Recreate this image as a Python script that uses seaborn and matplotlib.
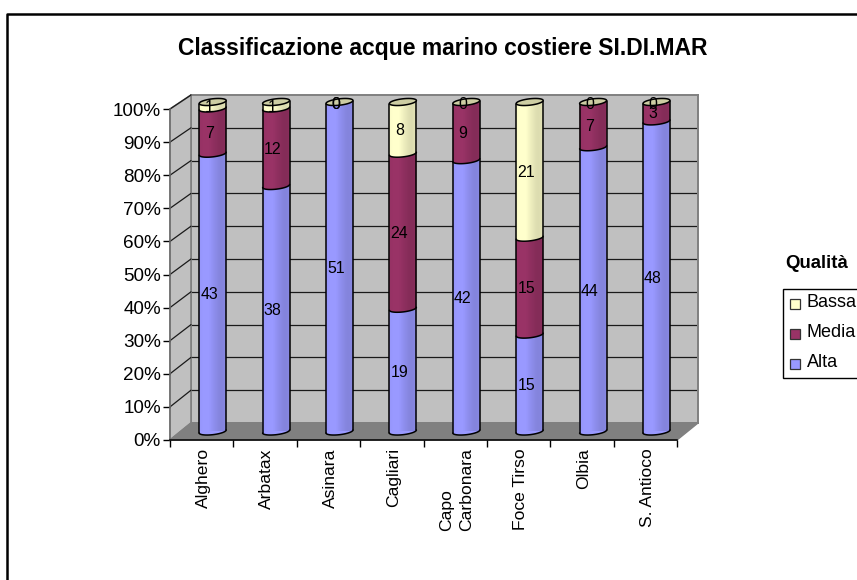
import numpy as np
import pandas as pd
import matplotlib
matplotlib.use("Agg")
import matplotlib.pyplot as plt
import seaborn as sns
from matplotlib.patches import Polygon, Rectangle
from matplotlib.lines import Line2D
from matplotlib.transforms import Affine2D

siti = ["Alghero", "Arbatax", "Asinara", "Cagliari", "Capo\nCarbonara", "Foce Tirso", "Olbia", "S. Antioco"]
alta = [43, 38, 51, 19, 42, 15, 44, 48]
media = [7, 12, 0, 24, 9, 15, 7, 3]
bassa = [1, 1, 0, 8, 0, 21, 0, 0]
col_alta, col_media, col_bassa = "#9999FF", "#993366", "#FFFFCC"
col_top = "#CDCDA3"

W, H = 857, 580
sns.set_theme(style="white")
plt.rcParams["font.family"] = ["Liberation Sans", "DejaVu Sans"]
fig = plt.figure(figsize=(W / 100, H / 100), dpi=100, facecolor="white")
px = Affine2D().scale(1 / W, -1 / H).translate(0, 1) + fig.transFigure
def rect(x0, y0, x1, y1):
    return [x0 / W, 1 - y1 / H, (x1 - x0) / W, (y1 - y0) / H]

# frame
fig.add_artist(Line2D([7.5, 7.5, W], [H, 14, 14], transform=px, color="black", lw=1.8, zorder=0))

# back wall
FX0, FX1, FY0, FY1 = 170, 677, 440, 109
BX0, BX1, BY0, BY1 = 191, 698, 423, 95
back = fig.add_axes(rect(BX0, BY1, BX1, BY0), zorder=1, facecolor="#C0C0C0")
back.set(xlim=(0, 1), ylim=(0, 100), xticks=[], yticks=[])
back.hlines(np.arange(10, 100, 10), 0, 1, color="#1a1a1a", lw=0.9)
for s in back.spines.values():
    s.set_color("#808080"); s.set_linewidth(1.4)

# side wall and floor
fig.add_artist(Polygon([(FX0, FY0), (FX0, FY1), (BX0, BY1), (BX0, BY0)], transform=px,
                       fc="#C0C0C0", ec="#808080", lw=1.2, zorder=1.1))
fig.add_artist(Polygon([(FX0, FY0), (FX1, FY0), (BX1, BY0), (BX0, BY0)], transform=px,
                       fc="#808080", ec="#808080", lw=1, zorder=1.1))
for p in np.arange(10, 101, 10):
    yf = FY0 + (FY1 - FY0) * p / 100
    yb = BY0 + (BY1 - BY0) * p / 100
    fig.add_artist(Line2D([FX0, BX0], [yf, yb], transform=px, color="#1a1a1a", lw=0.9, zorder=1.2))

# front axes: ticks and labels
front = fig.add_axes(rect(FX0, FY1, FX1, FY0), zorder=2, facecolor="none")
front.set_xlim(0, len(siti)); front.set_ylim(0, 100)
front.set_yticks(np.arange(0, 101, 10))
front.set_yticklabels([f"{v}%" for v in range(0, 101, 10)], fontsize=13.6, color="black")
front.set_xticks(np.arange(len(siti) + 1)); front.set_xticklabels([])
front.set_xticks(np.arange(len(siti)) + 0.53, minor=True)
front.set_xticklabels(siti, minor=True, rotation=90, fontsize=12.6, color="black",
                      va="top", ha="center", linespacing=1.42, multialignment="left")
front.tick_params(axis="y", which="major", length=5, width=1, color="black", pad=1.5, left=True)
front.tick_params(axis="x", which="major", length=5, width=1, color="black", pad=3, bottom=True)
front.tick_params(axis="x", which="minor", length=0, pad=6)
for n in ("top", "right"):
    front.spines[n].set_visible(False)
for n in ("left", "bottom"):
    front.spines[n].set_color("black"); front.spines[n].set_linewidth(1.1)
front.spines["left"].set_color("#707070")

# bars axes
ax = fig.add_axes(rect(181, 102, 688.2, 431.5), zorder=3, facecolor="none")
df = pd.DataFrame({"sito": siti, "alta": alta, "media": media, "bassa": bassa})
tot = df[["alta", "media", "bassa"]].sum(axis=1)
df["c1"] = df.alta / tot * 100
df["c2"] = (df.alta + df.media) / tot * 100
df["c3"] = (df.alta + df.media + df.bassa) / tot * 100
bw = 0.425
for cname, col in (("c3", col_bassa), ("c2", col_media), ("c1", col_alta)):
    sns.barplot(data=df, x="sito", y=cname, order=siti, color=col, saturation=1, width=bw,
                linewidth=0, ax=ax, errorbar=None)
bar_patches = list(ax.patches)
ax.set_xlim(-0.5, len(siti) - 0.5); ax.set_ylim(0, 100)
ax.axis("off")

unit = 100 / 329.5
b, sk = 3.2 * unit, 1.5 * unit
t_low = np.linspace(np.pi, 2 * np.pi, 40)
t_up = np.linspace(0, np.pi, 40)
def arc(c, y, t):
    return c + bw / 2 * np.cos(t), y + sk * np.cos(t) + b * np.sin(t)
shade = np.zeros((1, 10, 4))
shade[0, :, 3] = [0.02, 0, 0, 0, 0.03, 0.07, 0.10, 0.13, 0.14, 0.12]
for i in range(len(siti)):
    c1, c2, c3 = df.c1[i], df.c2[i], df.c3[i]
    # curved body of each stacked part, bottom to top
    for lo, hi, col in ((0, c1, col_alta), (c1, c2, col_media), (c2, c3, col_bassa)):
        if hi > lo:
            xl, yl = arc(i, lo, t_low)
            xh, yh = arc(i, hi, t_low)
            ax.fill(np.r_[xl, xh[::-1]], np.r_[yl, yh[::-1]], color=col, lw=0, zorder=3, clip_on=False)
    # cylinder shading, clipped to the outline
    xb, yb = arc(i, 0, t_low)
    xt, yt = arc(i, 100, t_up)
    outline = Polygon(np.c_[np.r_[xb, xt], np.r_[yb, yt]], transform=ax.transData, fc="none", ec="none")
    ax.add_patch(outline)
    for patch in bar_patches:
        if abs(patch.get_x() + patch.get_width() / 2 - i) < 0.1:
            patch.set_clip_path(outline)
    im = ax.imshow(shade, extent=(i - bw / 2, i + bw / 2, -3, 103), aspect="auto", zorder=4,
                   interpolation="bilinear")
    im.set_clip_path(outline)
    # outline
    for y, h in ((0, 1), (c1, media[i] + bassa[i]), (c2, bassa[i])):
        if h > 0:
            xa, ya = arc(i, y, t_low)
            ax.plot(xa, ya, color="black", lw=1.1, zorder=5, clip_on=False)
    ax.plot([i - bw / 2] * 2, [-sk, 100 - sk], color="black", lw=1.1, zorder=5, clip_on=False)
    ax.plot([i + bw / 2] * 2, [sk, 100 + sk], color="black", lw=1.1, zorder=5, clip_on=False)
    tx = np.linspace(0, 2 * np.pi, 80)
    xa, ya = arc(i, 100, tx)
    ax.fill(xa, ya, fc=col_top, ec="black", lw=1.1, zorder=5, clip_on=False)
    # value labels
    for v, lo, hi in ((alta[i], 0, c1), (media[i], c1, c2), (bassa[i], c2, c3)):
        if v == 0 and lo < 100:
            continue
        ax.annotate(str(v), (i, (lo + hi) / 2), xytext=(-2.6, -1.6), textcoords="offset points",
                    ha="center", va="center", fontsize=11.4, color="black", zorder=6, annotation_clip=False)
ax.set_xlim(-0.5, len(siti) - 0.5); ax.set_ylim(0, 100)

# title and legend
fig.text(443 / W, 1 - 49 / H, "Classificazione acque marino costiere SI.DI.MAR", ha="center", va="center",
         fontsize=16.5, fontweight="bold", color="black")
fig.text(785 / W, 1 - 263 / H, "Qualità", ha="left", va="center", fontsize=13.4, fontweight="bold", color="black")
fig.add_artist(Rectangle((783.5, 288.5), 90, 89, transform=px, fc="white", ec="black", lw=1, zorder=4))
for y, lab, col in ((304, "Bassa", col_bassa), (334, "Media", col_media), (364, "Alta", col_alta)):
    fig.add_artist(Rectangle((790, y - 5), 10, 10, transform=px, fc=col, ec="#333333", lw=0.9, zorder=5))
    fig.text(807 / W, 1 - (y - 1.5) / H, lab, ha="left", va="center", fontsize=13, color="black", zorder=6)

fig.savefig("out.png", dpi=100)
